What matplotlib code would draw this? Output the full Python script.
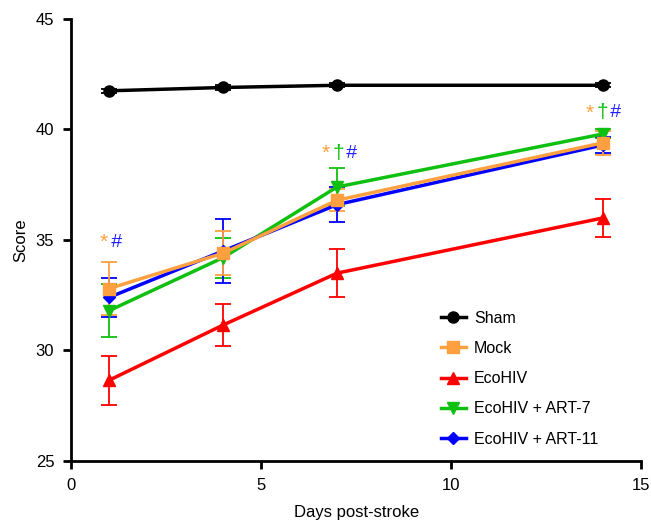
import matplotlib.pyplot as plt
from matplotlib.lines import Line2D

plt.rcParams['font.family'] = ['Liberation Sans', 'DejaVu Sans']

# Data
days = [1, 4, 7, 14]

sham = [41.75, 41.9, 42.0, 42.0]
sham_err = [0.1, 0.1, 0.1, 0.1]

mock = [32.8, 34.4, 36.8, 39.4]
mock_err = [1.2, 1.0, 0.5, 0.55]

ecohiv = [28.65, 31.15, 33.5, 36.0]
ecohiv_err = [1.1, 0.95, 1.1, 0.85]

art7 = [31.8, 34.2, 37.4, 39.8]
art7_err = [1.2, 0.9, 0.85, 0.2]

art11 = [32.4, 34.5, 36.6, 39.3]
art11_err = [0.9, 1.45, 0.8, 0.35]

names = ['Sham', 'Mock', 'EcoHIV', 'EcoHIV + ART-7', 'EcoHIV + ART-11']
colors = ['black', '#ffa040', '#ff0000', '#10c010', '#0000ff']
markers = ['o', 's', '^', 'v', 'D']
msizes = [8, 8, 9, 9, 6]

fig = plt.figure(figsize=(6.51, 5.2), dpi=100)
ax = fig.add_axes([0.109, 0.1135, 0.876, 0.85])

style = dict(linewidth=2.5, elinewidth=1.3, capsize=6, capthick=1.3, zorder=3)

series = {'Sham': (sham, sham_err), 'Mock': (mock, mock_err),
          'EcoHIV': (ecohiv, ecohiv_err), 'EcoHIV + ART-7': (art7, art7_err),
          'EcoHIV + ART-11': (art11, art11_err)}
draw_order = ['Sham', 'EcoHIV', 'EcoHIV + ART-7', 'EcoHIV + ART-11', 'Mock']
for name in draw_order:
    i = names.index(name)
    vals, err = series[name]
    ax.errorbar(days, vals, yerr=err, color=colors[i], marker=markers[i],
                markersize=msizes[i], **style)

# significance markers
orange, green, blue = '#ffa040', '#10c010', '#2020ff'
def sig(x, y, parts):
    for dx, (s, c) in zip([0, 0.33, 0.66], parts):
        ax.text(x + dx, y, s, color=c, fontsize=15 if s != '#' else 14,
                style='italic' if s == '#' else 'normal', ha='center', va='center')

sig(0.85, 34.9, [('*', orange), ('#', blue)])
sig(6.7, 38.9, [('*', orange), ('†', green), ('#', blue)])
sig(13.65, 40.75, [('*', orange), ('†', green), ('#', blue)])

ax.set_xlim(0, 15)
ax.set_ylim(25, 45)
ax.set_xticks([0, 5, 10, 15])
ax.set_yticks([25, 30, 35, 40, 45])
ax.tick_params(labelsize=12, width=2, length=6, direction='out', pad=6)
ax.spines['top'].set_visible(False)
ax.spines['right'].set_visible(False)
ax.spines['left'].set_linewidth(2)
ax.spines['bottom'].set_linewidth(2)
ax.set_xlabel('Days post-stroke', fontsize=12, labelpad=9)
ax.set_ylabel('Score', fontsize=12, labelpad=5)

handles = [Line2D([], [], color=c, marker=m, markersize=s, linewidth=2.5)
           for c, m, s in zip(colors, markers, msizes)]
ax.legend(handles, names, loc='lower right', frameon=False,
          fontsize=11.5, handlelength=1.6, handletextpad=0.5, labelspacing=0.95,
          bbox_to_anchor=(0.95, 0.0))

fig.savefig('out.png', dpi=100)
